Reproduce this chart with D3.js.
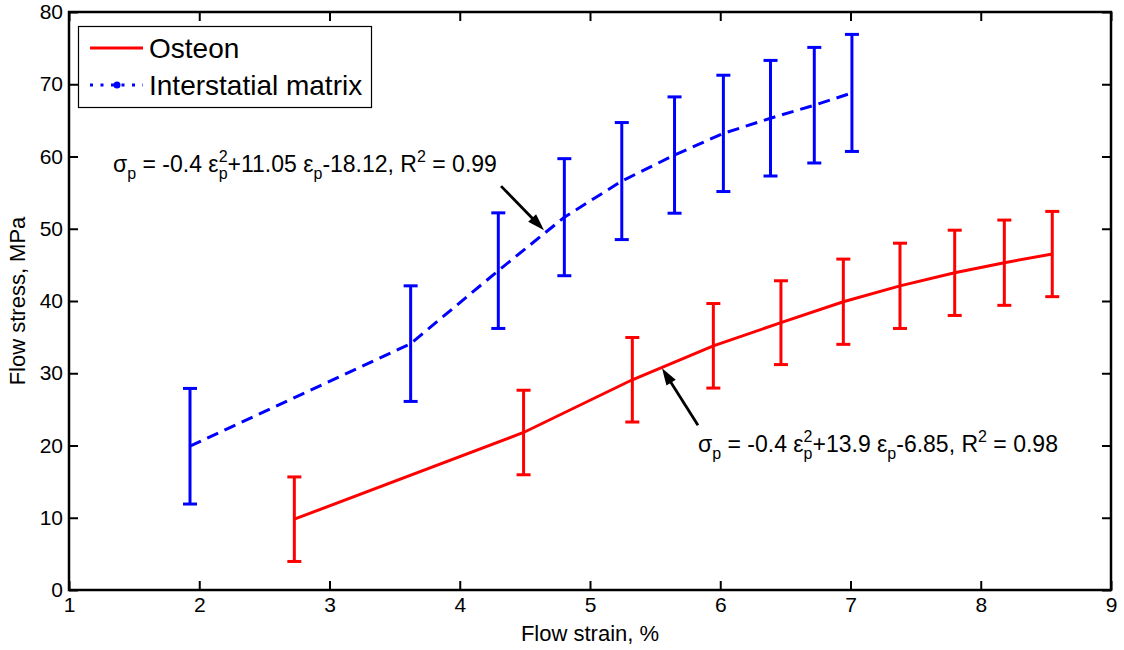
<!DOCTYPE html>
<html>
<head>
<meta charset="utf-8">
<script src="https://cdn.jsdelivr.net/npm/d3@7"></script>
<style>
  html, body { margin: 0; padding: 0; background: #fff; }
  svg { display: block; font-family: "Liberation Sans", Arial, sans-serif; }
</style>
</head>
<body>
<svg id="chart" width="1124" height="650"></svg>
<script>
// Flow stress vs. flow strain, mean ± SD
const osteonStrain = [2.73, 4.49, 5.325, 5.947, 6.466, 6.945, 7.38, 7.80, 8.181, 8.549];
const osteonStress = [9.8, 21.8, 29.1, 33.8, 37.0, 39.9, 42.1, 43.9, 45.3, 46.5];
const osteonSD     = [5.85, 5.85, 5.85, 5.85, 5.8, 5.9, 5.9, 5.9, 5.9, 5.9];

const matrixStrain = [1.929, 3.623, 4.296, 4.803, 5.244, 5.649, 6.024, 6.386, 6.722, 7.011];
const matrixStress = [19.9, 34.1, 44.2, 51.6, 56.6, 60.2, 63.2, 65.3, 67.1, 68.8];
const matrixSD     = [8.0, 8.0, 8.0, 8.1, 8.1, 8.05, 8.05, 8.0, 8.0, 8.1];

const xTicks = [1, 2, 3, 4, 5, 6, 7, 8, 9];
const yTicks = [0, 10, 20, 30, 40, 50, 60, 70, 80];
const legendLabels = ["Osteon", "Interstatial matrix"];

const svg = d3.select("#chart");
const plot = { left: 69, right: 1111, top: 12, bottom: 590 };

const x = d3.scaleLinear().domain([1, 9]).range([plot.left, plot.right]);
const y = d3.scaleLinear().domain([0, 80]).range([plot.bottom, plot.top]);

// Axes (box with inward ticks on all four sides)
const tickLen = 9;
const axisFont = 21;

const gx = svg.append("g").attr("transform", `translate(0,${plot.bottom})`)
  .call(d3.axisBottom(x).tickValues(xTicks).tickSizeInner(-tickLen).tickSizeOuter(0).tickPadding(7).tickFormat(d3.format("d")));
const gxTop = svg.append("g").attr("transform", `translate(0,${plot.top})`)
  .call(d3.axisTop(x).tickValues(xTicks).tickSizeInner(-tickLen).tickSizeOuter(0).tickFormat(""));
const gy = svg.append("g").attr("transform", `translate(${plot.left},0)`)
  .call(d3.axisLeft(y).tickValues(yTicks).tickSizeInner(-tickLen).tickSizeOuter(0).tickPadding(6).tickFormat(d3.format("d")));
const gyRight = svg.append("g").attr("transform", `translate(${plot.right},0)`)
  .call(d3.axisRight(y).tickValues(yTicks).tickSizeInner(-tickLen).tickSizeOuter(0).tickFormat(""));

[gx, gxTop, gy, gyRight].forEach(g => {
  g.select(".domain").remove();
  g.selectAll(".tick line").attr("stroke", "#000").attr("stroke-width", 2);
  g.selectAll("text").attr("fill", "#000").attr("font-size", axisFont)
    .attr("font-family", "Liberation Sans, Arial, sans-serif");
});

svg.append("rect")
  .attr("x", plot.left).attr("y", plot.top)
  .attr("width", plot.right - plot.left).attr("height", plot.bottom - plot.top)
  .attr("fill", "none").attr("stroke", "#000").attr("stroke-width", 2.5);

// Axis titles
svg.append("text")
  .attr("x", (plot.left + plot.right) / 2).attr("y", 641)
  .attr("text-anchor", "middle").attr("font-size", 22).attr("fill", "#000")
  .text("Flow strain, %");
svg.append("text")
  .attr("transform", `translate(25,${(plot.top + plot.bottom) / 2}) rotate(-90)`)
  .attr("text-anchor", "middle").attr("font-size", 22).attr("fill", "#000")
  .text("Flow stress, MPa");

// Series
const line = d3.line().x(d => x(d[0])).y(d => y(d[1]));
const osteon = osteonStrain.map((s, i) => [s, osteonStress[i], osteonSD[i]]);
const matrix = matrixStrain.map((s, i) => [s, matrixStress[i], matrixSD[i]]);

function errorBars(data, color) {
  const g = svg.append("g").attr("stroke", color).attr("stroke-width", 3).attr("fill", "none");
  const cap = 7;
  data.forEach(d => {
    const cx = x(d[0]), y1 = y(d[1] + d[2]), y2 = y(d[1] - d[2]);
    g.append("line").attr("x1", cx).attr("x2", cx).attr("y1", y1).attr("y2", y2);
    g.append("line").attr("x1", cx - cap).attr("x2", cx + cap).attr("y1", y1).attr("y2", y1);
    g.append("line").attr("x1", cx - cap).attr("x2", cx + cap).attr("y1", y2).attr("y2", y2);
  });
}

svg.append("path").datum(matrix).attr("d", line)
  .attr("fill", "none").attr("stroke", "#0000ff").attr("stroke-width", 3)
  .attr("stroke-dasharray", "12,7");
errorBars(matrix, "#0000ff");

svg.append("path").datum(osteon).attr("d", line)
  .attr("fill", "none").attr("stroke", "#ff0000").attr("stroke-width", 3);
errorBars(osteon, "#ff0000");

// Annotation arrows: shaft plus filled triangular head
const arrows = [
  { from: [4.317, 55.9], to: [4.647, 49.8] },
  { from: [5.829, 22.8], to: [5.553, 30.7] }
];
arrows.forEach(a => {
  const x1 = x(a.from[0]), y1 = y(a.from[1]), x2 = x(a.to[0]), y2 = y(a.to[1]);
  const len = Math.hypot(x2 - x1, y2 - y1);
  const ux = (x2 - x1) / len, uy = (y2 - y1) / len;
  const headLen = 17, half = 5.5;
  const bx = x2 - ux * headLen, by = y2 - uy * headLen;
  svg.append("line")
    .attr("x1", x1).attr("y1", y1).attr("x2", bx + ux * 2).attr("y2", by + uy * 2)
    .attr("stroke", "#000").attr("stroke-width", 2.8);
  svg.append("path")
    .attr("d", `M${x2},${y2} L${bx - uy * half},${by + ux * half} L${bx + uy * half},${by - ux * half} Z`)
    .attr("fill", "#000");
});

// Fit equations
function equation(px, py, coefs, r2) {
  const fs = 23, small = 16;
  const t = svg.append("text").attr("x", px).attr("y", py)
    .attr("font-size", fs).attr("fill", "#000");
  t.append("tspan").text("\u03C3");
  t.append("tspan").attr("font-size", small).attr("dy", 7).text("p");
  t.append("tspan").attr("dy", -7).text(` = ${coefs[0]} \u03B5`);
  t.append("tspan").attr("font-size", small).attr("dy", -10).text("2");
  t.append("tspan").attr("font-size", small).attr("dx", -8.9).attr("dy", 17).text("p");
  t.append("tspan").attr("dy", -7).text(`+${coefs[1]} \u03B5`);
  t.append("tspan").attr("font-size", small).attr("dy", 7).text("p");
  t.append("tspan").attr("dy", -7).text(`${coefs[2]}, R`);
  t.append("tspan").attr("font-size", small).attr("dy", -10).text("2");
  t.append("tspan").attr("dy", 10).text(` = ${r2}`);
}
equation(x(1.338), y(57.9), ["-0.4", "11.05", "-18.12"], "0.99");
equation(x(5.829), y(19.1), ["-0.4", "13.9", "-6.85"], "0.98");

// Legend
const lg = svg.append("g");
lg.append("rect").attr("x", 78.5).attr("y", 26.5).attr("width", 293).attr("height", 81)
  .attr("fill", "#fff").attr("stroke", "#000").attr("stroke-width", 1.2);
lg.append("line").attr("x1", 90).attr("x2", 143).attr("y1", 48).attr("y2", 48)
  .attr("stroke", "#ff0000").attr("stroke-width", 3);
lg.append("line").attr("x1", 90).attr("x2", 143).attr("y1", 85).attr("y2", 85)
  .attr("stroke", "#0000ff").attr("stroke-width", 3).attr("stroke-dasharray", "3,7.5");
lg.append("circle").attr("cx", 117).attr("cy", 85).attr("r", 3.5).attr("fill", "#0000ff");
lg.selectAll("text.leg").data(legendLabels).join("text")
  .attr("class", "leg")
  .attr("x", 149).attr("y", (d, i) => 58 + i * 37)
  .attr("font-size", 28).attr("fill", "#000")
  .text(d => d);
</script>
</body>
</html>
